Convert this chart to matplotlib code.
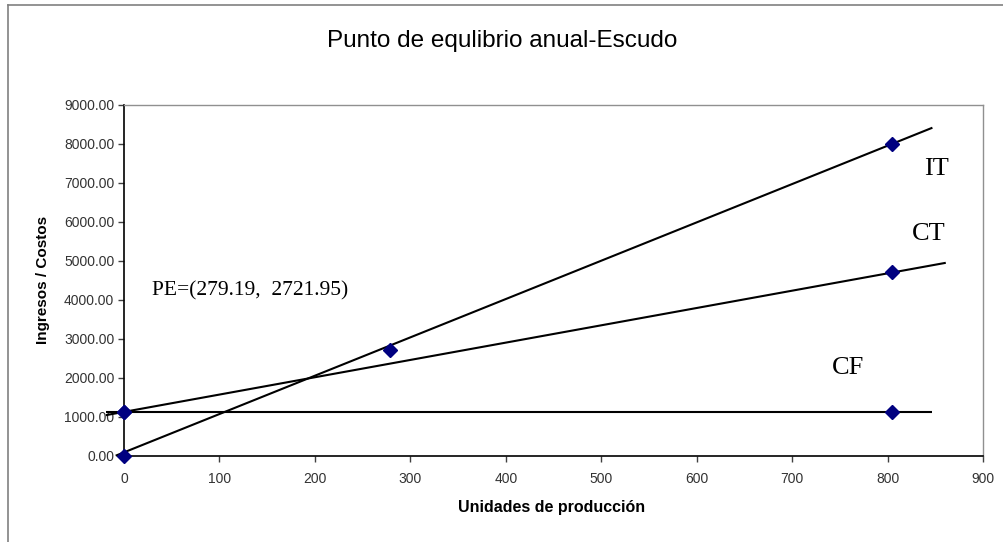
import matplotlib
matplotlib.use("Agg")
import matplotlib.pyplot as plt
from matplotlib.lines import Line2D

# Data points (units, amount)
units = [0, 805]
ingresos_totales = [0, 8000]
costos_totales = [1125, 4710]
costos_fijos = [1125, 1125]
pe_units = 279.19
pe_value = 2721.95

# Trend lines (start/end) for each series
it_line_x = [-8.7, 847]
it_line_y = [0, 8417]
ct_line_x = [-19, 861]
ct_line_y = [1040, 4950]
cf_line_x = [-19, 847]
cf_line_y = [1125, 1125]

x_ticks = list(range(0, 1000, 100))
y_ticks = list(range(0, 10000, 1000))

SANS = "Liberation Sans"
SERIF = "Liberation Serif"
W, H = 1004, 542

fig = plt.figure(figsize=(W / 100, H / 100), dpi=100)
fig.patch.set_facecolor("white")

# chart-area border (left and top edges)
fig.add_artist(Line2D([8 / W, 8 / W], [0, 1 - 5 / H], transform=fig.transFigure,
                      color="#808080", lw=1.2))
fig.add_artist(Line2D([8 / W, 1], [1 - 5 / H, 1 - 5 / H], transform=fig.transFigure,
                      color="#808080", lw=1.2))

left, right, top, bottom = 124, 983, 105, 455.7
ax = fig.add_axes([left / W, 1 - bottom / H, (right - left) / W, (bottom - top) / H])
ax.set_facecolor("white")

line_kw = dict(color="black", lw=1.5, clip_on=False, zorder=3, solid_capstyle="butt")
ax.plot(it_line_x, it_line_y, **line_kw)
ax.plot(ct_line_x, ct_line_y, **line_kw)
ax.plot(cf_line_x, cf_line_y, **line_kw)

mk = dict(linestyle="none", marker="D", ms=7, color="#000080", mec="#000080",
          clip_on=False, zorder=5)
ax.plot(units, ingresos_totales, **mk)
ax.plot(units, costos_totales, **mk)
ax.plot(units, costos_fijos, **mk)
ax.plot([pe_units], [pe_value], **mk)

ax.set_xlim(0, 900)
ax.set_ylim(0, 9000)
ax.set_xticks(x_ticks)
ax.set_xticklabels([str(v) for v in x_ticks])
ax.set_yticks(y_ticks)
ax.set_yticklabels([f"{v:.2f}" for v in y_ticks])

for lab in ax.get_xticklabels() + ax.get_yticklabels():
    lab.set_fontfamily(SANS)
    lab.set_fontsize(10)
    lab.set_color("#333333")

ax.tick_params(axis="both", direction="out", length=4, width=1, color="#404040")
ax.tick_params(axis="x", pad=8)
ax.tick_params(axis="y", pad=3)

for side in ("top", "right"):
    ax.spines[side].set_color("#909090")
    ax.spines[side].set_linewidth(1.0)
for side in ("left", "bottom"):
    ax.spines[side].set_color("black")
    ax.spines[side].set_linewidth(1.2)

# series labels
ax.text(851.8, 7364, "IT", family=SERIF, fontsize=19, ha="center", va="center")
ax.text(843.5, 5700, "CT", family=SERIF, fontsize=19, ha="center", va="center")
ax.text(758.6, 2245, "CF", family=SERIF, fontsize=19, ha="center", va="center")
ax.text(29, 4241, f"PE=({pe_units:.2f},  {pe_value:.2f})", family=SERIF, fontsize=15.5,
        ha="left", va="center")

fig.text(502 / W, 1 - 41 / H, "Punto de equlibrio anual-Escudo", family=SANS,
         fontsize=17.5, ha="center", va="center")
fig.text(43 / W, 1 - 280 / H, "Ingresos / Costos", family=SANS, fontweight="bold",
         fontsize=11, rotation=90, ha="center", va="center")
fig.text(552 / W, 1 - 507.7 / H, "Unidades de producción", family=SANS,
         fontweight="bold", fontsize=11.5, ha="center", va="center")

fig.savefig("out.png", dpi=100)
